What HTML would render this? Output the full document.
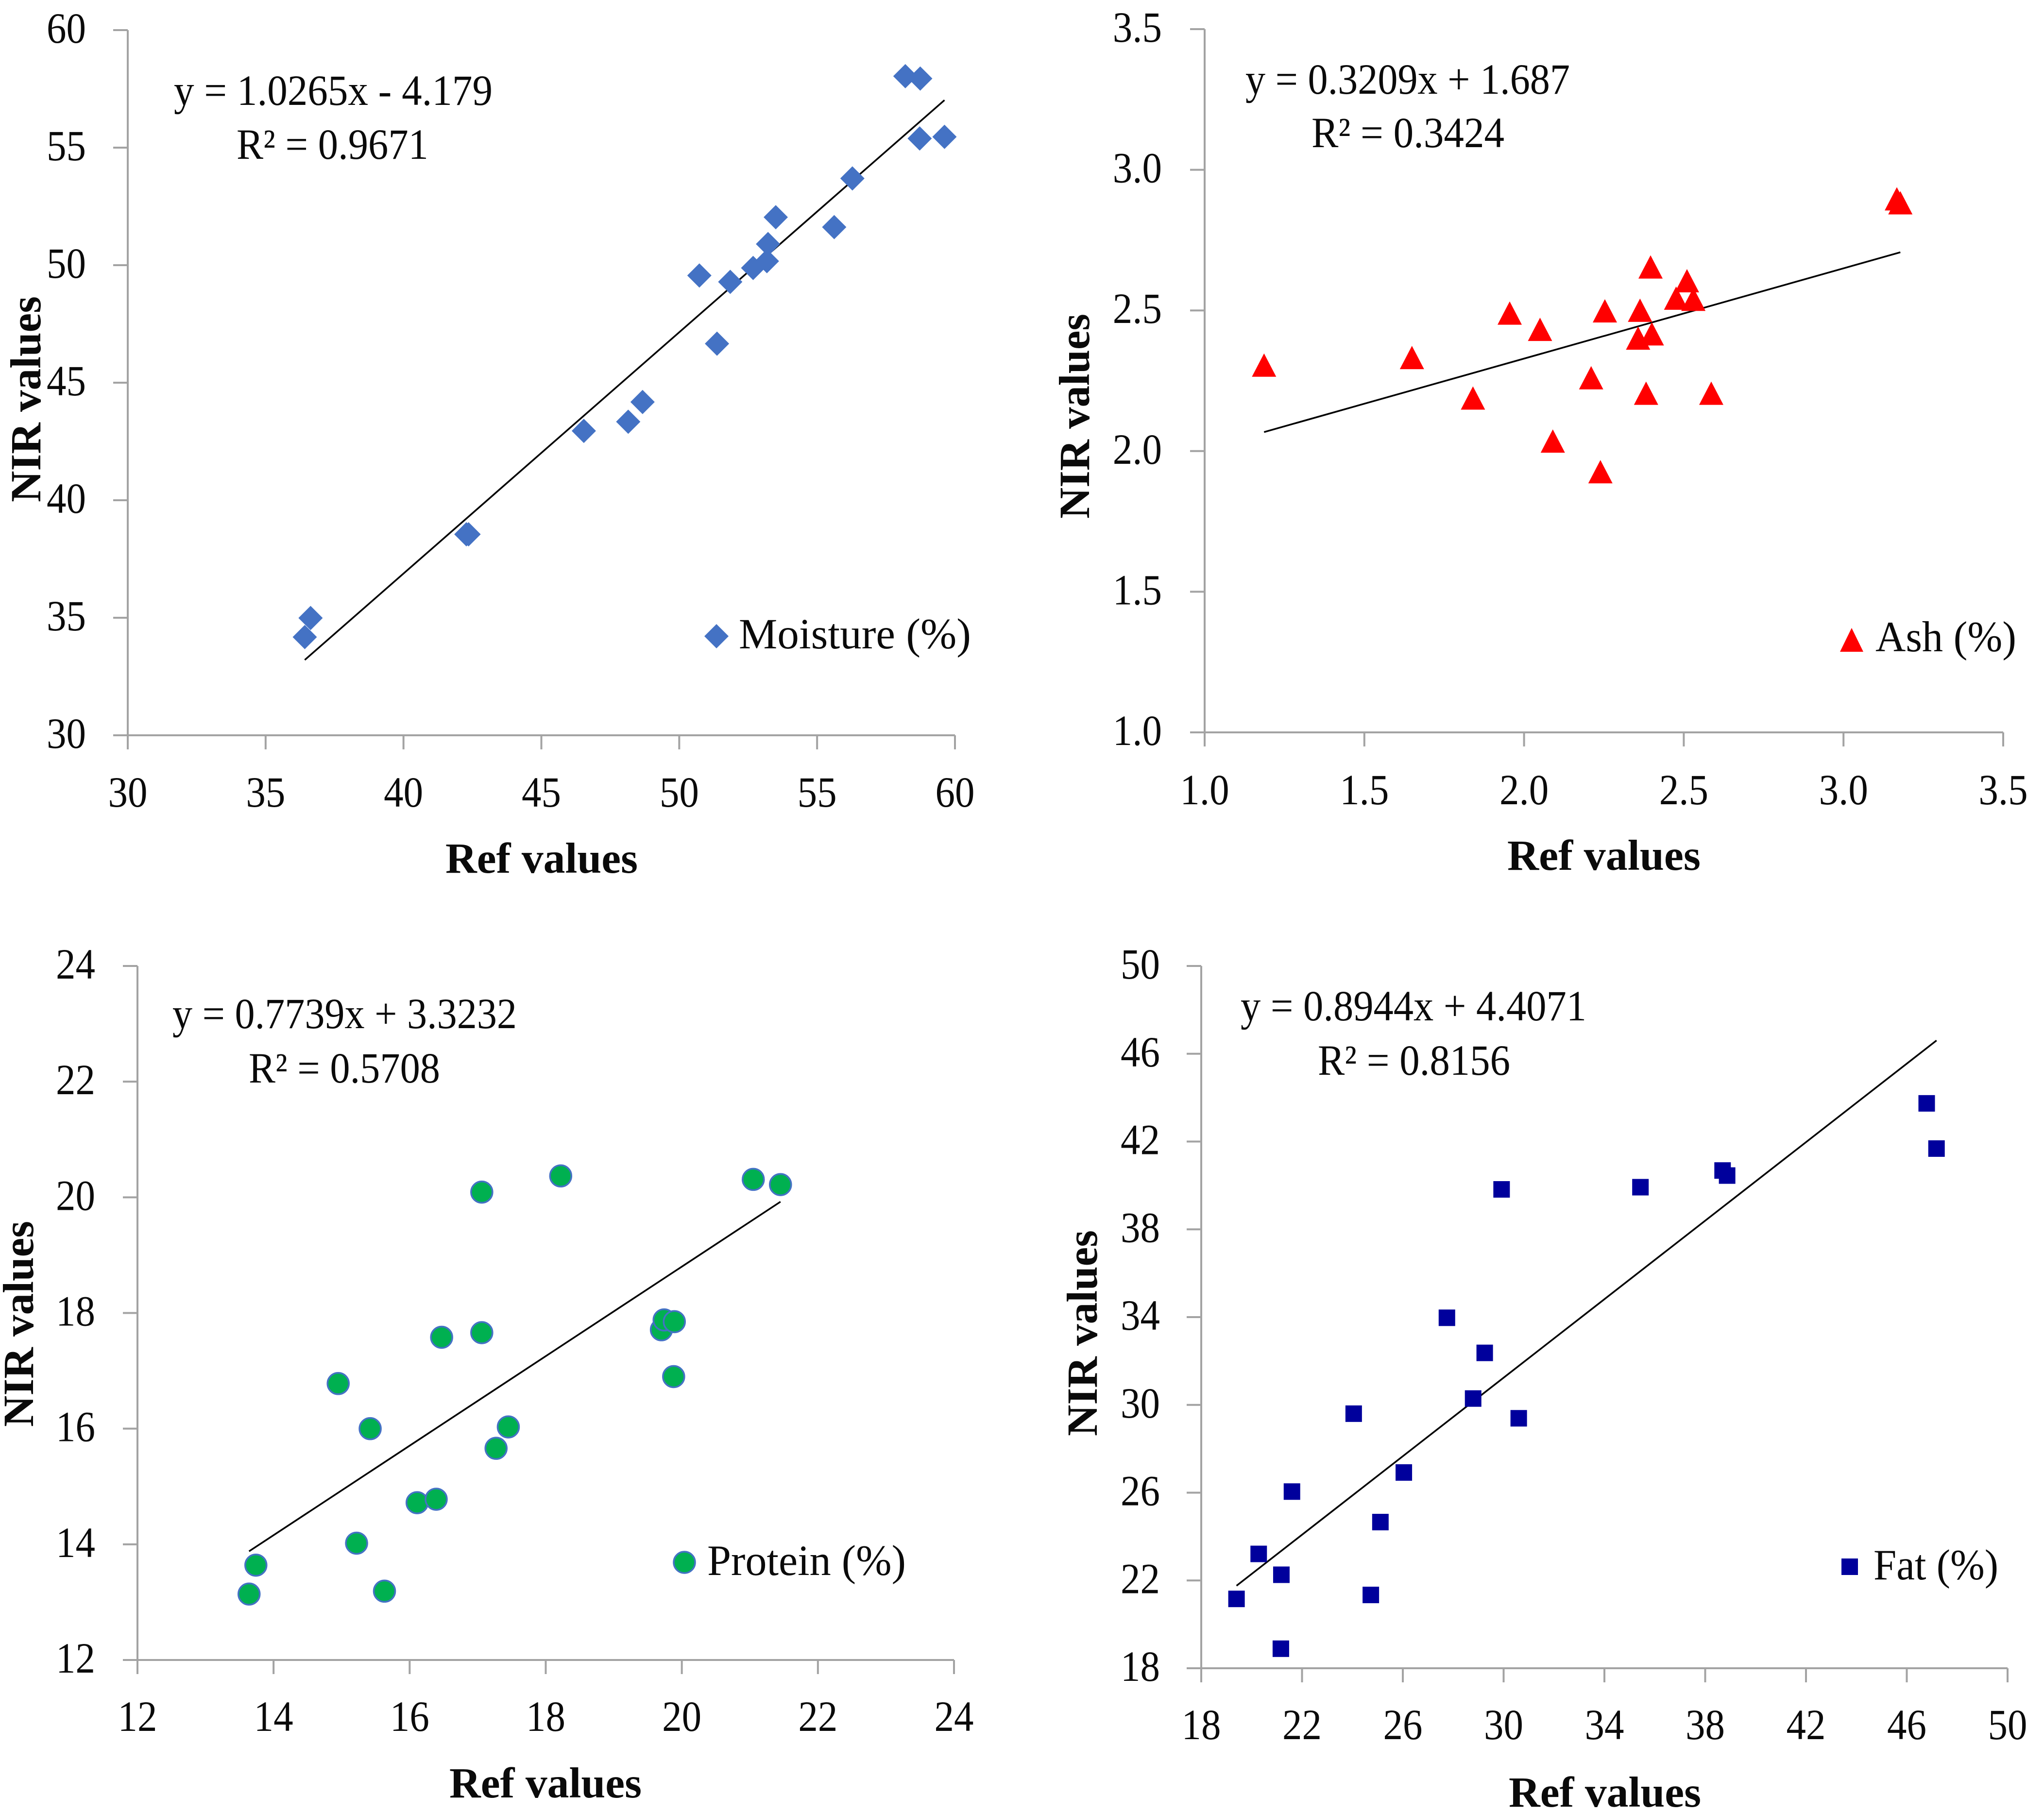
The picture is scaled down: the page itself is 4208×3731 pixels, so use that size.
<!DOCTYPE html>
<html lang="en">
<head>
<meta charset="utf-8">
<title>NIR vs reference value scatter plots</title>
<style>
html,body{margin:0;padding:0;background:#fff;}
svg{display:block;}
text{font-family:"Liberation Serif",serif;font-size:89px;fill:#0a0a0a;}
.title{font-weight:bold;}
</style>
</head>
<body>
<svg id="figure" xmlns="http://www.w3.org/2000/svg" width="4208" height="3731" viewBox="0 0 4208 3731">
<rect width="4208" height="3731" fill="#fff"/>

<g id="panel-moisture">
<text x="358" y="216" textLength="656" lengthAdjust="spacingAndGlyphs">y = 1.0265x - 4.179</text>
<text x="487" y="327" textLength="395" lengthAdjust="spacingAndGlyphs">R² = 0.9671</text>
<text class="title" x="917" y="1797" textLength="396" lengthAdjust="spacingAndGlyphs">Ref values</text>
<text class="title" transform="translate(83,1034) rotate(-90)" textLength="424" lengthAdjust="spacingAndGlyphs">NIR values</text>
<polygon points="1475,1285 1500,1310 1475,1335 1450,1310" fill="#4472C4"/>
<text x="1521" y="1335" textLength="478" lengthAdjust="spacingAndGlyphs">Moisture (%)</text>
</g>

<g id="panel-ash">
<text x="2564" y="193" textLength="668" lengthAdjust="spacingAndGlyphs">y = 0.3209x + 1.687</text>
<text x="2700" y="303" textLength="397" lengthAdjust="spacingAndGlyphs">R² = 0.3424</text>
<text class="title" x="3103" y="1791" textLength="398" lengthAdjust="spacingAndGlyphs">Ref values</text>
<text class="title" transform="translate(2242,1068) rotate(-90)" textLength="422" lengthAdjust="spacingAndGlyphs">NIR values</text>
<polygon points="3812,1293 3836,1342 3788,1342" fill="#FF0000"/>
<text x="3861" y="1341" textLength="290" lengthAdjust="spacingAndGlyphs">Ash (%)</text>
</g>

<g id="panel-protein">
<text x="355" y="2117" textLength="709" lengthAdjust="spacingAndGlyphs">y = 0.7739x + 3.3232</text>
<text x="512" y="2229" textLength="394" lengthAdjust="spacingAndGlyphs">R² = 0.5708</text>
<text class="title" x="925" y="3701" textLength="396" lengthAdjust="spacingAndGlyphs">Ref values</text>
<text class="title" transform="translate(68,2938) rotate(-90)" textLength="424" lengthAdjust="spacingAndGlyphs">NIR values</text>
<circle cx="1409" cy="3217" r="22" fill="#00B050" stroke="#4472C4" stroke-width="3.5"/>
<text x="1456" y="3243" textLength="409" lengthAdjust="spacingAndGlyphs">Protein (%)</text>
</g>

<g id="panel-fat">
<text x="2554" y="2101" textLength="712" lengthAdjust="spacingAndGlyphs">y = 0.8944x + 4.4071</text>
<text x="2713" y="2213" textLength="396" lengthAdjust="spacingAndGlyphs">R² = 0.8156</text>
<text class="title" x="3106" y="3720" textLength="396" lengthAdjust="spacingAndGlyphs">Ref values</text>
<text class="title" transform="translate(2258,2957) rotate(-90)" textLength="424" lengthAdjust="spacingAndGlyphs">NIR values</text>
<rect x="3791" y="3209" width="34" height="34" fill="#00009C"/>
<text x="3857" y="3252" textLength="257" lengthAdjust="spacingAndGlyphs">Fat (%)</text>
</g>
</svg>

<script>
// Moisture data
const moistureTicks = ["30", "35", "40", "45", "50", "55", "60"];
const moistureRef = [36.42, 36.63, 42.28, 42.36, 46.54, 48.15, 48.67, 50.73, 51.37, 51.85, 52.68, 53.18, 53.22, 53.5, 55.62, 56.28, 58.2, 58.74, 58.72, 59.62];
const moistureNir = [34.18, 34.99, 38.55, 38.55, 42.95, 43.34, 44.18, 49.56, 46.66, 49.29, 49.88, 50.17, 50.9, 52.04, 51.62, 53.69, 58.04, 57.94, 55.39, 55.46];
const moistureFit = [1.0265, -4.179];

// Ash data
const ashTicks = ["1.0", "1.5", "2.0", "2.5", "3.0", "3.5"];
const ashRef = [1.186, 1.649, 1.84, 1.955, 2.05, 2.09, 2.21, 2.239, 2.253, 2.363, 2.357, 2.4, 2.382, 2.396, 2.476, 2.51, 2.53, 2.586, 3.167, 3.178];
const ashNir = [2.304, 2.331, 2.187, 2.489, 2.431, 2.034, 2.259, 1.925, 2.497, 2.499, 2.4, 2.415, 2.204, 2.653, 2.542, 2.604, 2.538, 2.204, 2.895, 2.881];
const ashFit = [0.3209, 1.687];

// Protein data
const proteinTicks = ["12", "14", "16", "18", "20", "22", "24"];
const proteinRef = [13.64, 13.74, 14.95, 15.22, 15.42, 15.63, 16.11, 16.39, 16.47, 17.06, 17.06, 17.27, 17.45, 18.22, 19.7, 19.74, 19.89, 19.88, 21.05, 21.45];
const proteinNir = [13.14, 13.64, 16.78, 14.02, 16.0, 13.19, 14.72, 14.78, 17.58, 20.09, 17.66, 15.66, 16.03, 20.37, 17.71, 17.88, 17.85, 16.9, 20.31, 20.22];
const proteinFit = [0.7739, 3.3232];

// Fat data
const fatTicks = ["18", "22", "26", "30", "34", "38", "42", "46", "50"];
const fatRef = [19.4, 20.28, 21.16, 21.18, 21.6, 24.05, 24.73, 25.11, 26.04, 27.75, 28.79, 29.25, 29.92, 30.6, 35.43, 38.69, 38.87, 46.79, 47.18];
const fatNir = [21.16, 23.21, 18.89, 22.26, 26.05, 29.6, 21.34, 24.66, 26.92, 33.97, 30.29, 32.37, 39.82, 29.39, 39.92, 40.68, 40.45, 43.74, 41.68];
const fatFit = [0.8944, 4.4071];

const SVG_NS = "http://www.w3.org/2000/svg";

function make(tag, attrs) {
  const el = document.createElementNS(SVG_NS, tag);
  for (const k in attrs) el.setAttribute(k, attrs[k]);
  return el;
}

function drawPanel(p) {
  const host = document.getElementById(p.host);
  const lo = parseFloat(p.ticks[0]);
  const hi = parseFloat(p.ticks[p.ticks.length - 1]);
  const sx = v => p.left + (v - lo) / (hi - lo) * (p.right - p.left);
  const sy = v => p.bottom - (v - lo) / (hi - lo) * (p.bottom - p.top);

  const xAxis = make("line", {x1: p.left, x2: p.right, y1: p.bottom, y2: p.bottom, stroke: "#A3A3A3", "stroke-width": 4});
  
  
  host.appendChild(xAxis);

  const yAxis = make("line", {x1: p.left, x2: p.left, y1: p.top, y2: p.bottom, stroke: "#A3A3A3", "stroke-width": 4});
  
  
  host.appendChild(yAxis);

  p.ticks.forEach(label => {
    const v = parseFloat(label);

    const xt = make("line", {x1: sx(v), x2: sx(v), y1: p.bottom, y2: p.bottom + 29, stroke: "#A3A3A3", "stroke-width": 4});
    
    
    host.appendChild(xt);

    const yt = make("line", {x1: p.left - 30, x2: p.left, y1: sy(v), y2: sy(v), stroke: "#A3A3A3", "stroke-width": 4});
    
    
    host.appendChild(yt);

    const xl = make("text", {"text-anchor": "middle", transform: "translate(" + sx(v) + "," + p.xLabelY + ") scale(0.91,1)"});
    xl.textContent = label;
    
    
    host.appendChild(xl);

    const yl = make("text", {"text-anchor": "end", transform: "translate(" + p.yLabelX + "," + (sy(v) + 26) + ") scale(0.91,1)"});
    yl.textContent = label;
    
    
    host.appendChild(yl);
  });

  const minX = Math.min(...p.xs);
  const maxX = Math.max(...p.xs);
  const trend = make("line", {
    x1: sx(minX), y1: sy(p.fit[0] * minX + p.fit[1]),
    x2: sx(maxX), y2: sy(p.fit[0] * maxX + p.fit[1]),
    stroke: "#000", "stroke-width": 3.5
  });
  
  
  host.appendChild(trend);

  p.xs.forEach((xv, i) => {
    const cx = sx(xv);
    const cy = sy(p.ys[i]);
    let mark;
    if (p.shape === "diamond") {
      mark = make("polygon", {points: cx + "," + (cy - 25) + " " + (cx + 25) + "," + cy + " " + cx + "," + (cy + 25) + " " + (cx - 25) + "," + cy, fill: "#4472C4"});
    } else if (p.shape === "triangle") {
      mark = make("polygon", {points: cx + "," + (cy - 25) + " " + (cx + 25) + "," + (cy + 23) + " " + (cx - 25) + "," + (cy + 23), fill: "#FF0000"});
    } else if (p.shape === "circle") {
      mark = make("circle", {cx: cx, cy: cy, r: 22, fill: "#00B050", stroke: "#4472C4", "stroke-width": 3.5});
    } else {
      mark = make("rect", {x: cx - 17, y: cy - 17, width: 34, height: 34, fill: "#00009C"});
    }
    
    
    host.appendChild(mark);
  });
}

drawPanel({host: "panel-moisture", ticks: moistureTicks, xs: moistureRef, ys: moistureNir, fit: moistureFit, shape: "diamond",
  left: 263, right: 1966, top: 62, bottom: 1514, xLabelY: 1661, yLabelX: 177});
drawPanel({host: "panel-ash", ticks: ashTicks, xs: ashRef, ys: ashNir, fit: ashFit, shape: "triangle",
  left: 2480, right: 4124, top: 60, bottom: 1508, xLabelY: 1656, yLabelX: 2392});
drawPanel({host: "panel-protein", ticks: proteinTicks, xs: proteinRef, ys: proteinNir, fit: proteinFit, shape: "circle",
  left: 283, right: 1964, top: 1989, bottom: 3418, xLabelY: 3564, yLabelX: 196});
drawPanel({host: "panel-fat", ticks: fatTicks, xs: fatRef, ys: fatNir, fit: fatFit, shape: "square",
  left: 2473, right: 4133, top: 1989, bottom: 3435, xLabelY: 3581, yLabelX: 2388});
</script>
</body>
</html>
